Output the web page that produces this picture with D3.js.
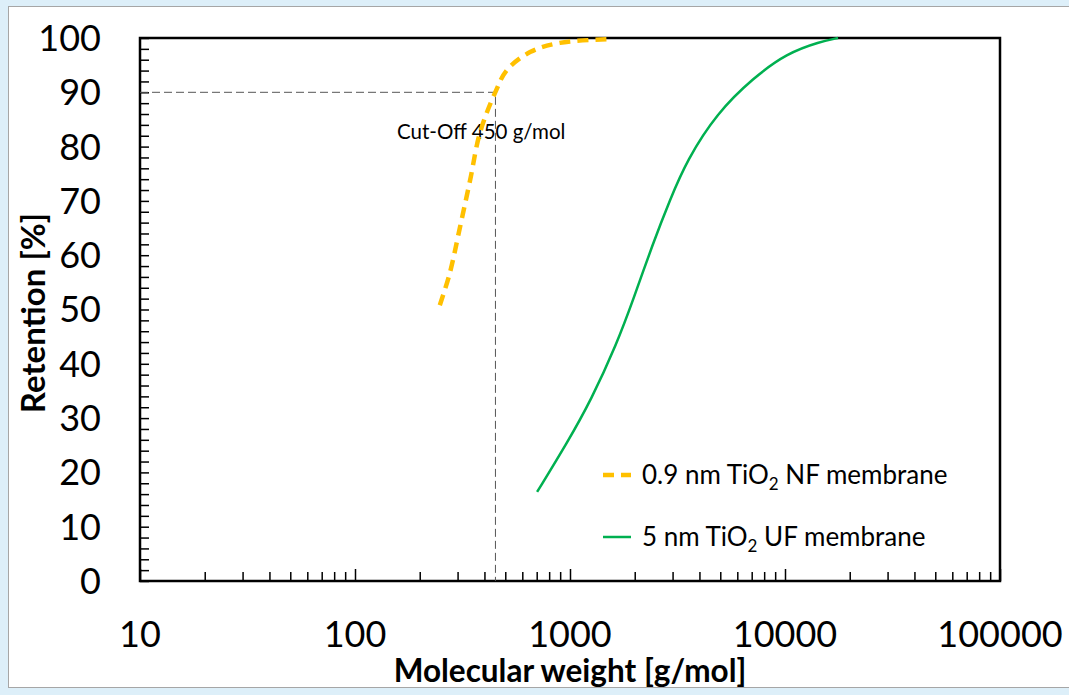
<!DOCTYPE html>
<meta charset="utf-8">
<title>Retention vs molecular weight</title>
<script src="https://d3js.org/d3.v7.min.js"></script>
<style>
    body { margin: 0; background: #ddeff9; }
    svg { display: block; font-family: Lato, "Open Sans", sans-serif; }
</style>
<body>
<script>
    // Data
    const nfMw        = [248, 276, 308, 343, 381, 448, 509, 652, 897, 1585];
    const nfRetention = [50.8, 56.7, 65.2, 73.8, 82.5, 89.9, 94.1, 97.4, 99.1, 99.8];

    const ufMw        = [703, 968, 1253, 1655, 1964, 2432, 2917, 3499, 4830, 7096, 10210, 14550, 17650];
    const ufRetention = [16.4, 25.4, 33.3, 43.8, 51.7, 62.2, 70.2, 77.5, 86.2, 92.6, 97.2, 99.3, 100];

    const cutOff      = [450, 90];
    const xTicks      = [10, 100, 1000, 10000, 100000];
    const yTicks      = [0, 10, 20, 30, 40, 50, 60, 70, 80, 90, 100];

    const width  = 1069;
    const height = 695;
    const plot = { left: 140, right: 1000, top: 38, bottom: 581 };

    const svg = d3.select("body")
                  .append("svg")
                  .attr("width", width)
                  .attr("height", height);

    // White panel with gray border
    svg.append("rect")
        .attr("x", 8.5).attr("y", 6.5)
        .attr("width", 1070).attr("height", 681)
        .attr("fill", "#fff")
        .attr("stroke", "#a6a6a6");

    const x = d3.scaleLog().domain([10, 100000]).range([plot.left, plot.right]);
    const y = d3.scaleLinear().domain([0, 100]).range([plot.bottom, plot.top]);

    // Minor ticks
    const xMinor = [];
    for (let d = 10; d < 100000; d *= 10) {
        for (let k = 2; k <= 9; k++) xMinor.push(d * k);
    }
    const yMinor = d3.range(0, 101, 2);

    svg.append("g")
        .attr("transform", "translate(0," + plot.bottom + ")")
        .call(d3.axisTop(x).tickValues(xMinor).tickSize(9).tickFormat(""))
        .call(g => g.select(".domain").remove())
        .selectAll("line").attr("stroke", "#000").attr("stroke-width", 1.5);

    svg.append("g")
        .attr("transform", "translate(0," + plot.bottom + ")")
        .call(d3.axisTop(x).tickValues(xTicks).tickSize(12).tickFormat(""))
        .call(g => g.select(".domain").remove())
        .selectAll("line").attr("stroke", "#000").attr("stroke-width", 1.5);

    svg.append("g")
        .attr("transform", "translate(" + plot.left + ",0)")
        .call(d3.axisRight(y).tickValues(yMinor).tickSize(9).tickFormat(""))
        .call(g => g.select(".domain").remove())
        .selectAll("line").attr("stroke", "#000").attr("stroke-width", 1.5);

    // Frame of the plot area
    svg.append("rect")
        .attr("x", plot.left).attr("y", plot.top)
        .attr("width", plot.right - plot.left)
        .attr("height", plot.bottom - plot.top)
        .attr("fill", "none")
        .attr("stroke", "#000")
        .attr("stroke-width", 2.5);

    // Tick labels
    svg.append("g")
        .selectAll("text")
        .data(xTicks)
        .enter()
        .append("text")
        .attr("x", d => x(d))
        .attr("y", 647)
        .attr("text-anchor", "middle")
        .attr("font-size", 36)
        .text(d => d);

    svg.append("g")
        .selectAll("text")
        .data(yTicks)
        .enter()
        .append("text")
        .attr("x", 101)
        .attr("y", d => y(d))
        .attr("dy", "0.36em")
        .attr("text-anchor", "end")
        .attr("font-size", 36)
        .text(d => d);

    // Axis titles
    svg.append("text")
        .attr("x", 570).attr("y", 682)
        .attr("text-anchor", "middle")
        .attr("font-size", 31.5)
        .attr("font-weight", "bold")
        .text("Molecular weight [g/mol]");

    svg.append("text")
        .attr("transform", "translate(45,313) rotate(-90)")
        .attr("text-anchor", "middle")
        .attr("font-size", 33)
        .attr("font-weight", "bold")
        .text("Retention [%]");

    // Cut-off guide lines
    svg.append("path")
        .attr("d", d3.line()([[x(10), y(cutOff[1])], [x(cutOff[0]), y(cutOff[1])], [x(cutOff[0]), y(0)]]))
        .attr("fill", "none")
        .attr("stroke", "#555")
        .attr("stroke-width", 1)
        .attr("stroke-dasharray", "8,4");

    svg.append("text")
        .attr("x", 397).attr("y", 139)
        .attr("font-size", 20.5)
        .text("Cut-Off 450 g/mol");

    // Curves
    const nfLine = d3.line()
                     .x(d => x(d[0]))
                     .y(d => y(d[1]))
                     .curve(d3.curveCatmullRom.alpha(0.5));

    const ufLine = d3.line()
                     .x(d => x(d[0]))
                     .y(d => y(d[1]))
                     .curve(d3.curveBasis);

    svg.append("path")
        .attr("d", ufLine(d3.zip(ufMw, ufRetention)))
        .attr("fill", "none")
        .attr("stroke", "#00b050")
        .attr("stroke-width", 2.5);

    svg.append("path")
        .attr("d", nfLine(d3.zip(nfMw, nfRetention)))
        .attr("fill", "none")
        .attr("stroke", "#ffc000")
        .attr("stroke-width", 4.5)
        .attr("stroke-dasharray", "11,7");

    // Legend
    const legend = svg.append("g");
    const items = [
        { label: "0.9 nm TiO", tail: " NF membrane", color: "#ffc000", width: 4.5, dash: "11,7", y: 475 },
        { label: "5 nm TiO",   tail: " UF membrane", color: "#00b050", width: 2.5, dash: null,   y: 537 }
    ];
    items.forEach(it => {
        legend.append("line")
            .attr("x1", 603).attr("x2", 631)
            .attr("y1", it.y).attr("y2", it.y)
            .attr("stroke", it.color)
            .attr("stroke-width", it.width)
            .attr("stroke-dasharray", it.dash);
        const t = legend.append("text")
            .attr("x", 642).attr("y", it.y + 9)
            .attr("font-size", 26);
        t.append("tspan").text(it.label);
        t.append("tspan").attr("dy", 6).attr("font-size", 17).text("2");
        t.append("tspan").attr("dy", -6).text(it.tail);
    });
</script>
</body>
